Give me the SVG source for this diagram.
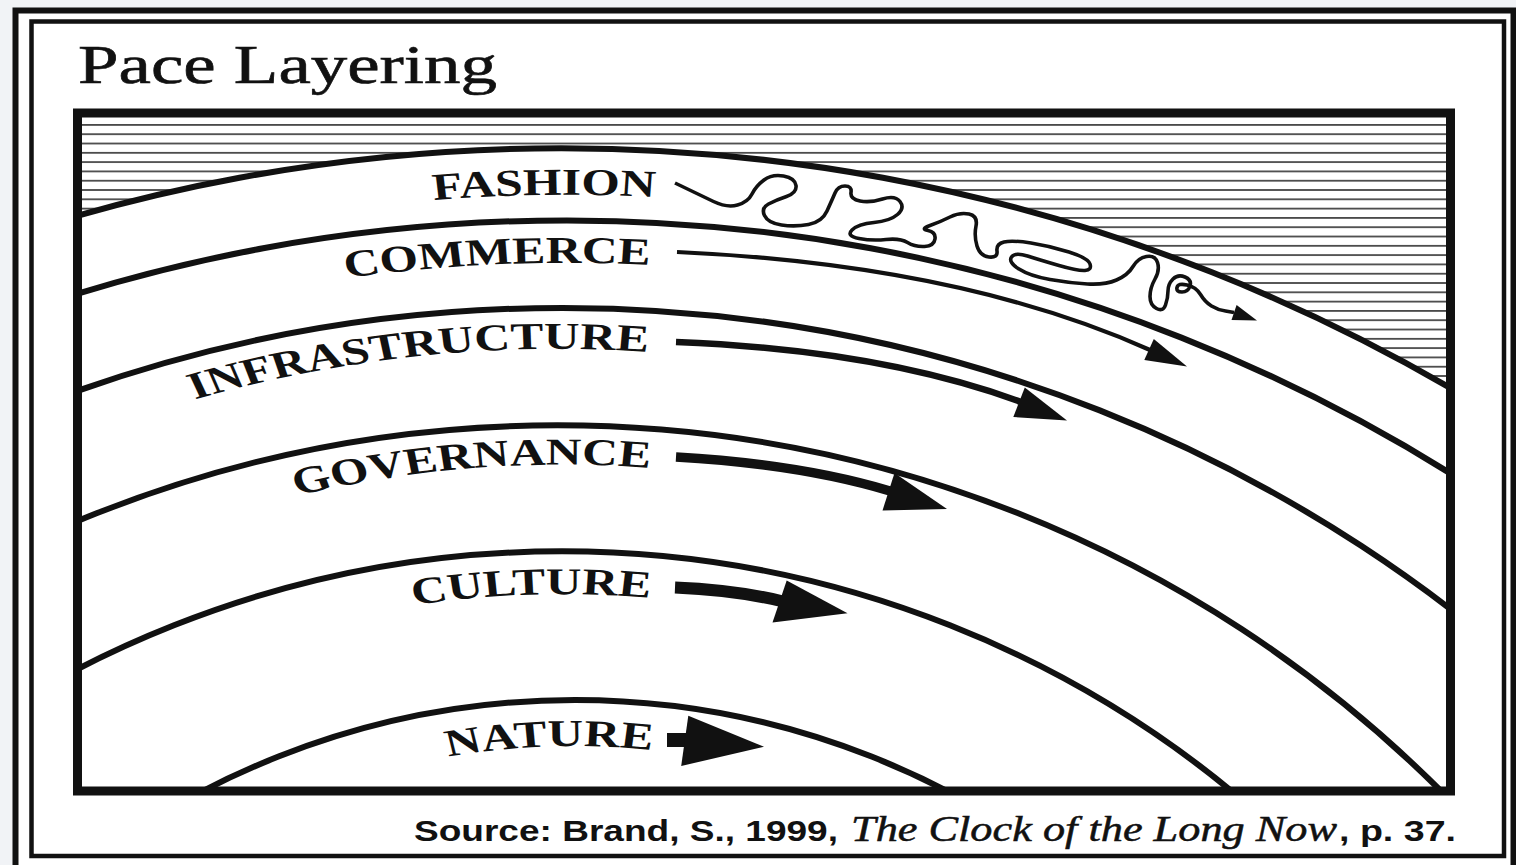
<svg xmlns="http://www.w3.org/2000/svg" xmlns:xlink="http://www.w3.org/1999/xlink" width="1516" height="865" viewBox="0 0 1516 865">
<defs>
<style>
.arc{fill:none;stroke:#111;stroke-width:6}
.lbl{font-family:"Liberation Serif","Times New Roman",serif;font-weight:bold;font-size:38px;fill:#111}
.shaft{fill:none;stroke:#111;stroke-linecap:butt}
.head{fill:#111}
.sans{font-family:"Liberation Sans",Arial,sans-serif;font-weight:bold;font-size:30px;fill:#111}
</style>
<pattern id="hatch" patternUnits="userSpaceOnUse" x="0" y="124" width="40" height="9.3">
<rect x="0" y="0" width="40" height="1.8" fill="#4a4a4a"/>
</pattern>
<clipPath id="boxclip"><rect x="77" y="113" width="1373" height="678"/></clipPath>
<path id="p-fashion" d="M292.3,205.1 A1303.8 1694.9 0 0 1 503.8,197.1"/>
<path id="p-commerce" d="M230.8,285 A1251.4 1626.8 0 0 1 500,265"/>
<path id="p-infra" d="M115.4,413 A1020.5 1326.6 0 0 1 498.5,352"/>
<path id="p-gov" d="M192.3,508.1 A877.5 1140.8 0 0 1 500,468"/>
<path id="p-culture" d="M284.6,612.6 A777.8 1011.2 0 0 1 500,598"/>
<path id="p-nature" d="M307.7,766.5 A584.2 759.5 0 0 1 501.5,750"/>
</defs>

<rect x="0" y="0" width="1516" height="865" fill="#f1f3f6"/>
<rect x="15.5" y="10.5" width="1498" height="870" fill="#fff" stroke="#111" stroke-width="6"/>
<rect x="31.5" y="21.5" width="1472.5" height="834.5" fill="#fff" stroke="#111" stroke-width="4.5"/>

<text x="78" y="83" font-family="Liberation Serif, Times New Roman, serif" font-size="54" fill="#111" stroke="#111" stroke-width="0.6" textLength="419" lengthAdjust="spacingAndGlyphs">Pace Layering</text>

<g id="sky">
<path d="M81,117 L81,214.7 A1768 1768 0 0 1 1446,385.5 L1446,117 Z" fill="url(#hatch)"/>
</g>

<g id="layer-boundaries" clip-path="url(#boxclip)">
<circle class="arc" cx="561.2" cy="1916.2" r="1768"/>
<circle class="arc" cx="566.9" cy="1889.7" r="1669.3"/>
<circle class="arc" cx="562.5" cy="1767.4" r="1459.5"/>
<circle class="arc" cx="557.4" cy="1675.5" r="1250.2"/>
<circle class="arc" cx="562" cy="1605.4" r="1054.1"/>
<circle class="arc" cx="575" cy="1505.6" r="805.6"/>
</g>

<g id="fashion">
<g transform="scale(1.3 1)"><text class="lbl"><textPath xlink:href="#p-fashion" href="#p-fashion" startOffset="100%" text-anchor="end">FASHION</textPath></text></g>
<path class="shaft" stroke-width="3.6" stroke-linejoin="round" d="M675,183 Q700,195 713.5,201.5 Q727,208 737.5,205 Q748,202 752,194 Q756,186 764,180 Q772,174 783.5,176 Q795,178 796,185.5 Q797,193 786.5,196.5 Q776,200 768.5,204 Q761,208 764.5,215.5 Q768,223 781.5,225 Q795,227 808.5,224.5 Q822,222 827,211 Q832,200 835,193 Q838,186 845,186 Q852,186 851,192.5 Q850,199 860,201 Q870,203 882.5,199 Q895,195 900,201.5 Q905,208 897.5,214.5 Q890,221 874,222.5 Q858,224 852,230 Q846,236 859,238.5 Q872,241 886,239.5 Q900,238 907.5,242.5 Q915,247 924.5,246.5 Q934,246 935,239 Q936,232 928,230.5 Q920,229 930,225.5 Q940,222 950,217 Q960,212 969,214 Q978,216 976,226 Q974,236 977,246 Q980,256 989,257 Q998,258 997,251 Q996,244 1004,242 Q1012,240 1031,243 Q1050,246 1069,252 Q1088,258 1090,264 Q1092,270 1085,270.5 Q1078,271 1059,265.5 Q1040,260 1027.5,256 Q1015,252 1011.5,257 Q1008,262 1019,269 Q1030,276 1050,279.5 Q1070,283 1087.5,284 Q1105,285 1116.5,280 Q1128,275 1133,266.5 Q1138,258 1146.5,256.5 Q1155,255 1157.5,262.5 Q1160,270 1155,279 Q1150,288 1150,296.5 Q1150,305 1156.5,308.5 Q1163,312 1165.5,305 Q1168,298 1168,291 Q1168,284 1173,279 Q1178,274 1185,277 Q1192,280 1190,286 Q1188,292 1182,292 Q1176,292 1177,287.5 Q1178,283 1187,285 Q1196,287 1200.5,294.5 Q1205,302 1211.5,306 Q1218,310 1225.5,311 L1234,312.5"/>
<polygon class="head" points="1257,320.5 1231.5,320 1236.6,305"/>
</g>

<g id="commerce">
<g transform="scale(1.3 1)"><text class="lbl"><textPath xlink:href="#p-commerce" href="#p-commerce" startOffset="100%" text-anchor="end">COMMERCE</textPath></text></g>
<path class="shaft" stroke-width="4.2" d="M677,252 Q960,265 1150,350"/>
<polygon class="head" points="1187,366.5 1144.3,360 1153.8,339"/>
</g>

<g id="infrastructure">
<g transform="scale(1.3 1)"><text class="lbl"><textPath xlink:href="#p-infra" href="#p-infra" startOffset="100%" text-anchor="end">INFRASTRUCTURE</textPath></text></g>
<path class="shaft" stroke-width="6.5" d="M676,342 Q880,350 1021,402"/>
<polygon class="head" points="1067,420.5 1013.3,417 1024.8,387.5"/>
</g>

<g id="governance">
<g transform="scale(1.3 1)"><text class="lbl"><textPath xlink:href="#p-gov" href="#p-gov" startOffset="100%" text-anchor="end">GOVERNANCE</textPath></text></g>
<path class="shaft" stroke-width="9.5" d="M676,457 Q800,464 890,491"/>
<polygon class="head" points="947,509 882.5,510.5 894.5,473"/>
</g>

<g id="culture">
<g transform="scale(1.3 1)"><text class="lbl"><textPath xlink:href="#p-culture" href="#p-culture" startOffset="100%" text-anchor="end">CULTURE</textPath></text></g>
<path class="shaft" stroke-width="12" d="M675,587.5 Q735,590 781,601"/>
<polygon class="head" points="847.5,613.3 772.5,622.5 786.7,580.5"/>
</g>

<g id="nature">
<g transform="scale(1.3 1)"><text class="lbl"><textPath xlink:href="#p-nature" href="#p-nature" startOffset="100%" text-anchor="end">NATURE</textPath></text></g>
<path class="shaft" stroke-width="14" d="M667,740 L686,740"/>
<polygon class="head" points="764,746.7 681.2,766 688.3,715.7"/>
</g>

<rect x="77.5" y="113" width="1373" height="678" fill="none" stroke="#111" stroke-width="9"/>

<g id="source">
<text class="sans" x="414" y="841" textLength="424" lengthAdjust="spacingAndGlyphs">Source: Brand, S., 1999,</text>
<text x="851" y="841" font-family="Liberation Serif, Times New Roman, serif" font-style="italic" font-size="35" fill="#111" stroke="#111" stroke-width="0.5" textLength="486" lengthAdjust="spacingAndGlyphs">The Clock of the Long Now</text>
<text class="sans" x="1339" y="841" textLength="117" lengthAdjust="spacingAndGlyphs">, p. 37.</text>
</g>
</svg>
